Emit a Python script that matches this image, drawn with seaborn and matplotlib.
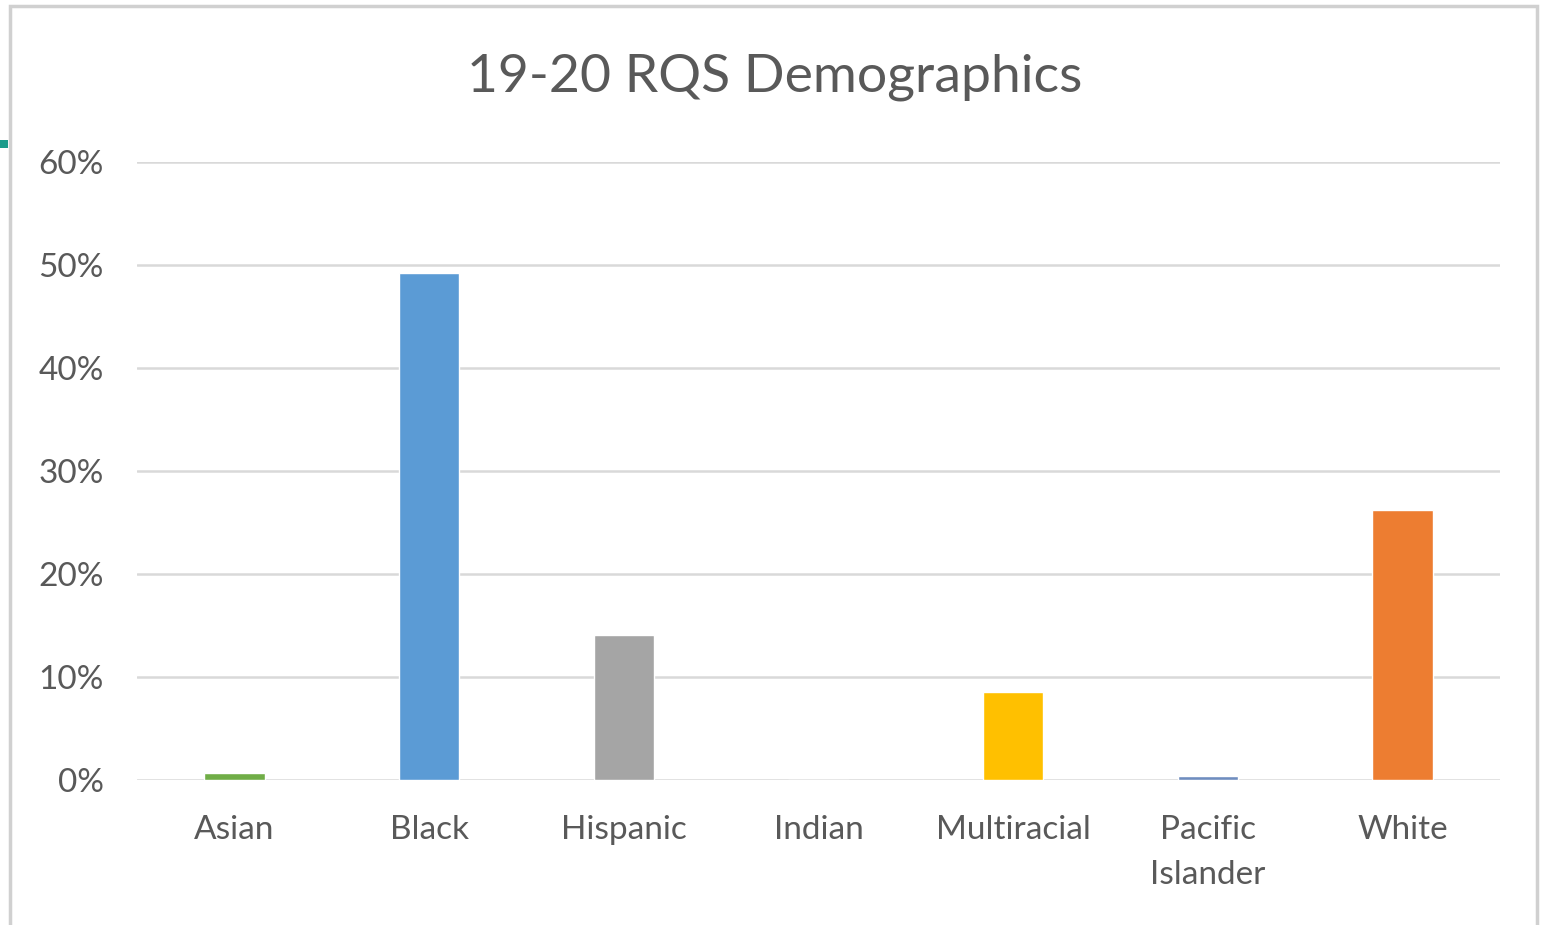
import matplotlib
matplotlib.use("Agg")
import matplotlib.pyplot as plt
import seaborn as sns
import pandas as pd
from matplotlib.patches import Rectangle
from matplotlib.ticker import PercentFormatter

categories = ["Asian", "Black", "Hispanic", "Indian", "Multiracial", "Pacific\nIslander", "White"]
shares = [0.7, 49.2, 14.1, 0.0, 8.5, 0.4, 26.2]
colors = ["#70AD47", "#5B9BD5", "#A5A5A5", "#4472C4", "#FFC000", "#6F8DBF", "#ED7D31"]

data = pd.DataFrame({"group": categories, "share": shares})

sns.set_theme(style="white")
plt.rcParams["font.family"] = ["Lato", "DejaVu Sans"]

fig = plt.figure(figsize=(15.41, 9.25), dpi=100)
ax = fig.add_axes([0.0889, 0.1568, 0.8845, 0.6681])

sns.barplot(data=data, x="group", y="share", hue="group", palette=colors,
            width=0.31, legend=False, ax=ax, saturation=1)

ax.set_ylim(0, 60)
ax.set_yticks(range(0, 61, 10))
ax.yaxis.set_major_formatter(PercentFormatter(decimals=0))
ax.grid(axis="y", color="#D9D9D9", linewidth=1.8)
ax.set_axisbelow(True)
for s in ax.spines.values():
    s.set_visible(False)
ax.set_xlabel("")
ax.set_ylabel("")
ax.tick_params(axis="both", length=0, labelsize=24, labelcolor="#595959")
ax.tick_params(axis="y", pad=24)
ax.tick_params(axis="x", pad=25)
for lbl in ax.get_xticklabels():
    lbl.set_linespacing(1.65)

fig.text(0.503, 0.917, "19-20 RQS Demographics", ha="center", va="center",
         fontsize=38.5, color="#595959")

# outer chart frame and the small teal mark at the left edge
fig.patches.append(Rectangle((0.0065, -0.01), 0.991, 1.0035, transform=fig.transFigure,
                             fill=False, edgecolor="#D0D0D0", linewidth=2.5))
fig.patches.append(Rectangle((0.0, 0.840), 0.0055, 0.009, transform=fig.transFigure,
                             facecolor="#1A9B8A", edgecolor="none"))

fig.savefig("out.png", dpi=100)
